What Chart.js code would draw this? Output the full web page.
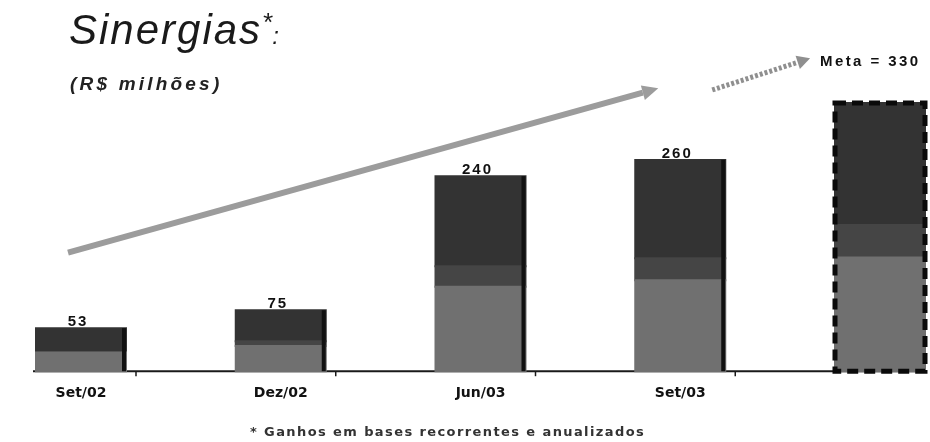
<!DOCTYPE html>
<html>
<head>
<meta charset="utf-8">
<script src="https://cdn.jsdelivr.net/npm/chart.js@4"></script>
<style>
    html, body { margin: 0; padding: 0; background: #fff; }
    #wrap { position: relative; width: 930px; height: 442px; overflow: hidden; }
    #chart { position: absolute; left: 0; top: 0; }
    .title {
        position: absolute; left: 69px; top: 6px;
        font: italic 42px "Liberation Sans", Arial, sans-serif;
        letter-spacing: 2px; color: #1a1a1a; white-space: nowrap;
    }
    .title .ast { font-size: 26px; vertical-align: 13px; letter-spacing: 0; }
    .title .col { font-size: 24px; letter-spacing: 0; }
    .subtitle {
        position: absolute; left: 70px; top: 73px;
        font: italic bold 19px "Liberation Sans", Arial, sans-serif;
        letter-spacing: 3.2px; color: #222; white-space: nowrap;
    }
    .note {
        position: absolute; left: 250px; top: 424px;
        font: bold 13px "DejaVu Sans", sans-serif;
        letter-spacing: 1.4px; color: #333; white-space: nowrap;
    }
</style>
</head>
<body>
<div id="wrap">
    <canvas id="chart" width="930" height="442"></canvas>
    <div class="title">Sinergias<span class="ast">*</span><span class="col">:</span></div>
    <div class="subtitle">(R$ milhões)</div>
    <div class="note">* Ganhos em bases recorrentes e anualizados</div>
</div>
<script>
// dados
const categories = ['Set/02', 'Dez/02', 'Jun/03', 'Set/03', ''];
const totals = [53, 75, 240, 260, 330];
const baseValues = [23, 31, 104, 112, 140];   // parte inferior (cinza médio)
const midValues = [0, 6, 25, 27, 40];         // faixa intermediária
const topValues = [30, 38, 111, 121, 150];    // parte superior (escura)
const metaLabel = 'Meta = 330';

// setas decorativas em coordenadas de dados (índice da categoria, valor)
const trendArrow = { from: [-0.065, 146], to: [2.89, 348] };
const metaArrow = { from: [3.16, 346], to: [3.65, 385] };
const metaTextPos = [3.7, 381];

const DARK = '#333333';
const MID = '#454545';
const LIGHT = '#707070';

const decorPlugin = {
    id: 'decor',
    beforeDatasetsDraw(chart) {
        const { ctx, scales: { y } } = chart;
        const base = y.getPixelForValue(0);
        const first = chart.getDatasetMeta(0).data[0];
        ctx.save();
        ctx.strokeStyle = '#1a1a1a';
        ctx.lineWidth = 2;
        ctx.beginPath();
        ctx.moveTo(first.x - first.width / 2 - 3, base);
        ctx.lineTo(chart.width - 4, base);
        ctx.stroke();
        // pequenas marcas do eixo
        ctx.lineWidth = 1.5;
        chart.getDatasetMeta(0).data.forEach((bar, i) => {
            if (i > 3) return;
            const tx = bar.x + bar.width / 2 + 10;
            ctx.beginPath();
            ctx.moveTo(tx, base);
            ctx.lineTo(tx, base + 5);
            ctx.stroke();
        });
        ctx.restore();
    },
    afterDatasetsDraw(chart) {
        const { ctx, scales: { x, y } } = chart;
        const topMeta = chart.getDatasetMeta(2);
        const baseMeta = chart.getDatasetMeta(0);
        ctx.save();

        // sombra escura à direita das barras realizadas
        ctx.fillStyle = '#111';
        topMeta.data.forEach((bar, i) => {
            if (i > 3) return;
            const right = bar.x + bar.width / 2;
            ctx.fillRect(right - 4, bar.y, 4, baseMeta.data[i].base - bar.y);
        });

        // rótulos dos totais
        ctx.font = 'bold 15px "Liberation Sans", Arial, sans-serif';
        ctx.letterSpacing = '2px';
        ctx.textAlign = 'center';
        ctx.textBaseline = 'bottom';
        topMeta.data.forEach((bar, i) => {
            if (i > 3) return;
            ctx.fillText(String(totals[i]), bar.x - 3, bar.y + 1);
        });

        // borda tracejada da meta
        const mb = topMeta.data[4];
        const bb = baseMeta.data[4];
        ctx.strokeStyle = '#0a0a0a';
        ctx.lineWidth = 5;
        ctx.setLineDash([11, 6]);
        ctx.strokeRect(mb.x - mb.width / 2, mb.y, mb.width, bb.base - mb.y);
        ctx.setLineDash([]);

        // setas
        const px = p => [x.getPixelForValue(p[0]), y.getPixelForValue(p[1])];
        drawArrow(ctx, px(trendArrow.from), px(trendArrow.to), '#9c9c9c', 6, 16, 15, null);
        drawArrow(ctx, px(metaArrow.from), px(metaArrow.to), '#8f8f8f', 5, 13, 14, [3, 2]);

        // texto da meta
        const [mx, my] = px(metaTextPos);
        ctx.fillStyle = '#111';
        ctx.font = 'bold 15px "Liberation Sans", Arial, sans-serif';
        ctx.letterSpacing = '2.4px';
        ctx.textAlign = 'left';
        ctx.textBaseline = 'middle';
        ctx.fillText(metaLabel, mx, my);
        ctx.restore();
    }
};

function drawArrow(ctx, from, to, color, width, headLen, headWidth, dash) {
    const ang = Math.atan2(to[1] - from[1], to[0] - from[0]);
    const bx = to[0] - Math.cos(ang) * headLen;
    const by = to[1] - Math.sin(ang) * headLen;
    ctx.strokeStyle = color;
    ctx.fillStyle = color;
    ctx.lineWidth = width;
    ctx.lineCap = 'butt';
    if (dash) ctx.setLineDash(dash);
    ctx.beginPath();
    ctx.moveTo(from[0], from[1]);
    ctx.lineTo(bx, by);
    ctx.stroke();
    ctx.setLineDash([]);
    const nx = -Math.sin(ang) * headWidth / 2;
    const ny = Math.cos(ang) * headWidth / 2;
    ctx.beginPath();
    ctx.moveTo(to[0], to[1]);
    ctx.lineTo(bx + nx, by + ny);
    ctx.lineTo(bx - nx, by - ny);
    ctx.closePath();
    ctx.fill();
}

new Chart(document.getElementById('chart'), {
    type: 'bar',
    data: {
        labels: categories,
        datasets: [
            { data: baseValues, backgroundColor: LIGHT },
            { data: midValues, backgroundColor: MID },
            { data: topValues, backgroundColor: DARK }
        ].map(ds => Object.assign(ds, {
            borderWidth: 0,
            inflateAmount: 1,
            barThickness: 90,
            clip: false
        }))
    },
    options: {
        responsive: false,
        animation: false,
        layout: { padding: { left: 81, right: 50, top: 103, bottom: 26 } },
        plugins: {
            legend: { display: false },
            tooltip: { enabled: false }
        },
        scales: {
            x: {
                stacked: true,
                offset: false,
                grid: { display: false, drawTicks: false },
                border: { display: false },
                ticks: {
                    padding: 14,
                    color: '#111',
                    font: { family: '"DejaVu Sans", sans-serif', size: 14, weight: 'bold' }
                }
            },
            y: {
                stacked: true,
                display: false,
                min: 0,
                max: 330
            }
        }
    },
    plugins: [decorPlugin]
});
</script>
</body>
</html>
